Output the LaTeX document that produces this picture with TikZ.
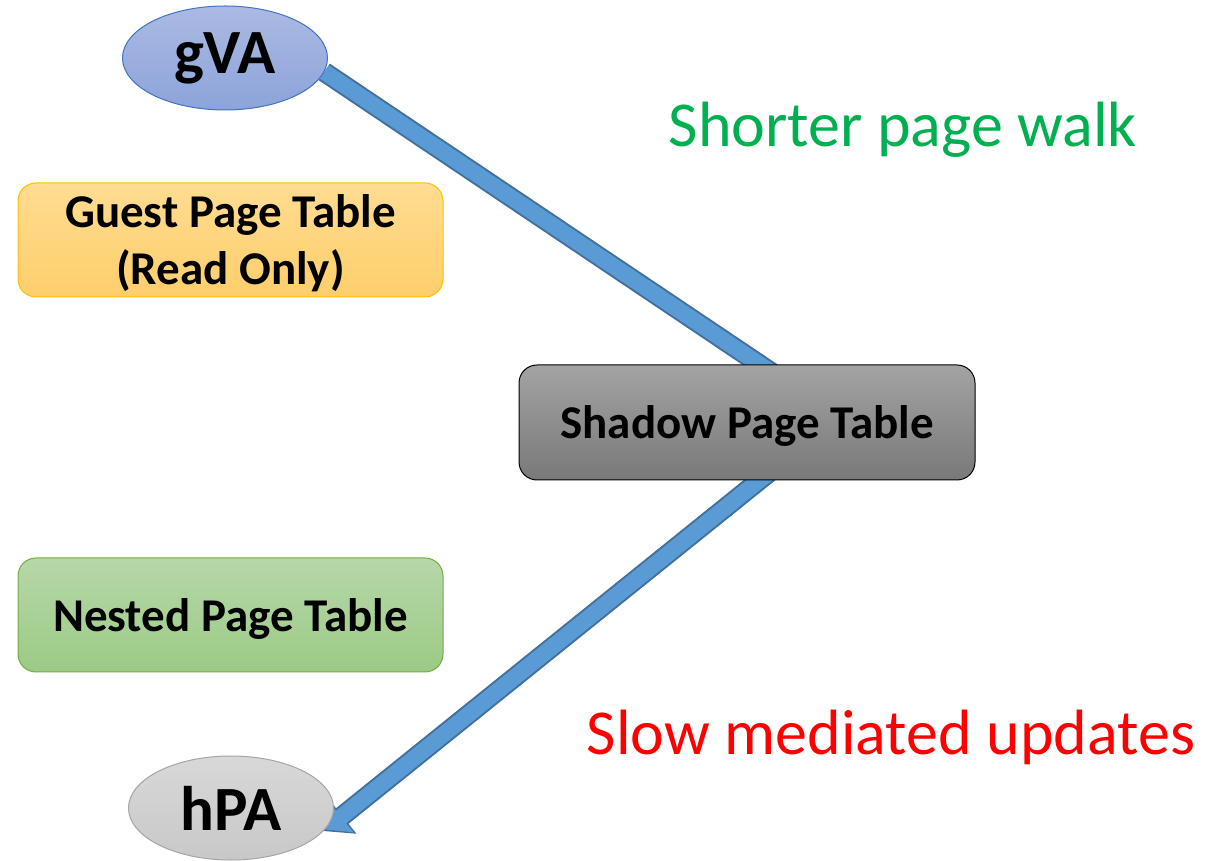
\documentclass[tikz,border=0pt]{standalone}
\usepackage{fontspec}
\setmainfont{Carlito}
\usetikzlibrary{arrows.meta}
\usetikzlibrary{shapes.geometric}
\usetikzlibrary{backgrounds}

\definecolor{arrowfill}{HTML}{5B9BD5}
\definecolor{arrowline}{HTML}{41719C}
\definecolor{gvatop}{HTML}{ABBAE3}
\definecolor{gvabot}{HTML}{8CA3DA}
\definecolor{gvaline}{HTML}{4472C4}
\definecolor{guesttop}{HTML}{FFDC92}
\definecolor{guestbot}{HTML}{FECE6A}
\definecolor{guestline}{HTML}{FFC000}
\definecolor{shadowtop}{HTML}{A3A3A3}
\definecolor{shadowbot}{HTML}{797979}
\definecolor{nestedtop}{HTML}{B6D8A9}
\definecolor{nestedbot}{HTML}{9CCA85}
\definecolor{nestedline}{HTML}{70AD47}
\definecolor{hpatop}{HTML}{D8D8D8}
\definecolor{hpabot}{HTML}{C8C8C8}
\definecolor{hpaline}{HTML}{A5A5A5}
\definecolor{goodtext}{HTML}{00B050}
\definecolor{badtext}{HTML}{FF0000}

\tikzset{
  addr/.style={ellipse, inner sep=0pt, minimum width=205pt, minimum height=104pt,
    line width=1pt, font=\bfseries\fontsize{63}{63}\selectfont},
  tablebox/.style={rounded corners=18pt, line width=1pt, align=center, text depth=0pt,
    font=\bfseries\fontsize{47}{57}\selectfont},
  note/.style={font=\fontsize{64}{70}\selectfont}
}

\begin{document}
\begin{tikzpicture}[x=1pt, y=1pt]
\useasboundingbox (0, 0) rectangle (1216, 860);

\node[addr, draw=gvaline, top color=gvatop, bottom color=gvabot] at (225, 802) (gVA) {gVA};
\node[addr, draw=hpaline, top color=hpatop, bottom color=hpabot] at (231, 52) (hPA) {hPA};

\node[tablebox, draw=guestline, top color=guesttop, bottom color=guestbot,
  minimum width=425pt, minimum height=114pt] at (230.5, 620) (GPT) {Guest Page Table\\(Read Only)};
\node[tablebox, draw=black, top color=shadowtop, bottom color=shadowbot,
  minimum width=456pt, minimum height=115pt] at (747, 437.5) (SPT) {Shadow Page Table};
\node[tablebox, draw=nestedline, top color=nestedtop, bottom color=nestedbot,
  minimum width=425pt, minimum height=114pt] at (230.5, 245) (NPT) {Nested Page Table};

\node[note, text=goodtext] at (903, 730) (walk) {Shorter page walk};
\node[note, text=badtext] at (891, 123) (upd) {Slow mediated updates};

\coordinate (bend) at (838, 443);

% translation path, behind the nodes
\begin{scope}[on background layer]
\draw[line width=20pt, arrowline, line join=miter,
  -{Triangle[length=24pt, width=44pt]}]
  (gVA.-8) -- (bend) -- (hPA.-14);
\draw[line width=16pt, arrowfill, line join=miter, shorten >=2.5pt,
  -{Triangle[length=20pt, width=38pt]}]
  (gVA.-8) -- (bend) -- (hPA.-14);
\end{scope}
\end{tikzpicture}
\end{document}
